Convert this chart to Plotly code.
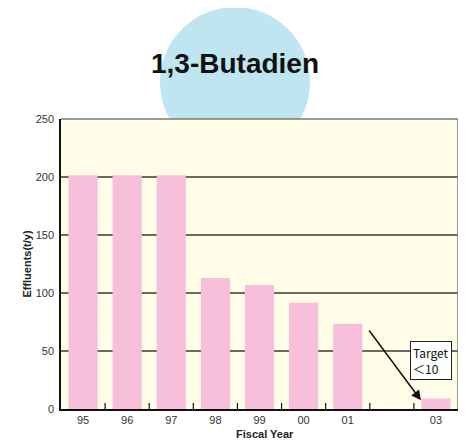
import plotly.graph_objects as go

categories = ["95", "96", "97", "98", "99", "00", "01", "02", "03"]
tick_labels = ["95", "96", "97", "98", "99", "00", "01", "", "03"]
effluents = [201.5, 201.5, 201.5, 113, 107, 91.5, 73.5, None, 9]
y_ticks = [0, 50, 100, 150, 200, 250]

# page body has an 8px margin, so the figure is sized to fit the 466x441 window
PW, PH = 397, 290          # plot area size in px
L, T = 53, 111             # margins (screen plot origin at 61,119)

fig = go.Figure()
fig.add_trace(go.Bar(
    x=list(range(len(categories))), y=effluents,
    marker=dict(color="#F7BFD9", line=dict(width=0)),
    width=0.66, hoverinfo="skip",
))

fig.update_layout(
    width=458, height=433,
    margin=dict(l=L, r=458 - L - PW, t=T, b=433 - T - PH, autoexpand=False),
    paper_bgcolor="white",
    plot_bgcolor="rgba(0,0,0,0)",
    showlegend=False,
    font=dict(family="Liberation Sans, Arial, sans-serif", color="#333"),
    xaxis=dict(
        tickmode="array", tickvals=list(range(len(categories))), ticktext=tick_labels,
        range=[-0.5, len(categories) - 0.5], automargin=False,
        showgrid=False, zeroline=False,
        showline=True, linecolor="#111", linewidth=1.5,
        ticks="", tickfont=dict(size=11, color="#333"),
    ),
    yaxis=dict(
        range=[0, 250], tickvals=y_ticks, automargin=False,
        showgrid=True, gridcolor="#6b6b63", gridwidth=1.5,
        zeroline=False, showline=True, linecolor="#111", linewidth=1.5,
        ticks="", tickfont=dict(size=11, color="#333"), ticklabelstandoff=3,
        title=dict(text="<b>Effluents(t/y)</b>", font=dict(size=11, color="#222"), standoff=2),
    ),
    shapes=[
        dict(type="circle", xref="paper", yref="paper", xsizemode="pixel", ysizemode="pixel",
             xanchor=(235 - 61) / PW, yanchor=1 + (119 - 82) / PH,
             x0=-75, x1=75, y0=-75, y1=75,
             fillcolor="#BFE5F0", line=dict(width=0), layer="below"),
        dict(type="rect", xref="paper", yref="paper", x0=0, x1=1, y0=0, y1=1,
             fillcolor="#FFFDE7", line=dict(width=0), layer="below"),
        dict(type="line", xref="paper", yref="paper", x0=0, x1=1, y0=1, y1=1,
             line=dict(color="#7a7a72", width=1.5)),
        dict(type="line", xref="paper", yref="paper", x0=1, x1=1, y0=0, y1=1,
             line=dict(color="#7a7a72", width=1.5)),
    ],
)

for i in range(1, len(categories)):
    fig.add_shape(type="line", xref="x", yref="paper", x0=i - 0.5, x1=i - 0.5,
                  y0=0, y1=6 / PH, line=dict(color="#111", width=1.2))

fig.add_annotation(text="<b>1,3-Butadien</b>", xref="paper", yref="paper",
                   x=(235 - 61) / PW, y=1 + (119 - 63) / PH, showarrow=False,
                   font=dict(size=28, color="#111", family="Liberation Sans, Arial, sans-serif"),
                   xanchor="center", yanchor="middle")

# x-axis title
fig.add_annotation(text="<b>Fiscal Year</b>", xref="paper", yref="paper",
                   x=(265 - 61) / PW, y=-(434 - 409) / PH, showarrow=False,
                   font=dict(size=11, color="#222"), xanchor="center", yanchor="middle")

fig.add_annotation(x=7.66, y=7.5, ax=6.46, ay=69, xref="x", yref="y", axref="x", ayref="y",
                   text="", showarrow=True, arrowhead=2, arrowsize=1.3, arrowwidth=1.5,
                   arrowcolor="#111")

fig.add_annotation(x=7.89, y=42, xref="x", yref="y", text="Target<br>＜10",
                   showarrow=False, align="left", bgcolor="white",
                   bordercolor="#222", borderwidth=1, borderpad=2,
                   font=dict(size=12, color="#111", family="Noto Sans CJK JP"))

fig.write_html("out.html")
